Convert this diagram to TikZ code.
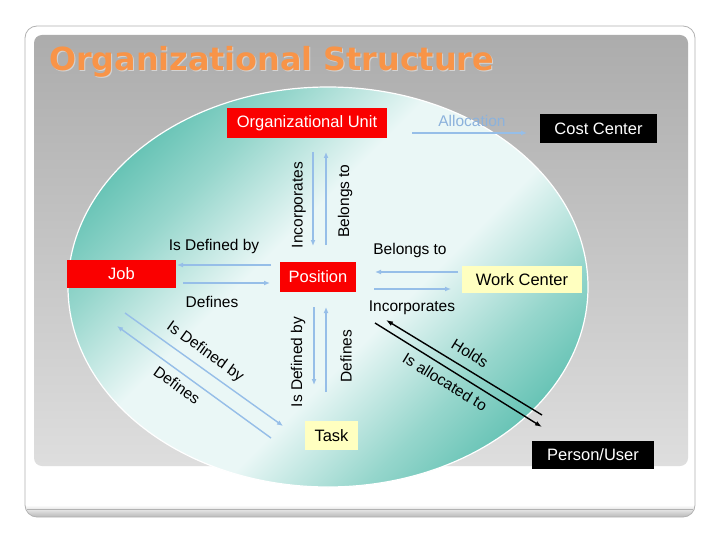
\documentclass[tikz,border=0pt]{standalone}
\usepackage{fontspec}
\setmainfont{Liberation Sans}
\newfontfamily\titlefont{DejaVu Sans}
\usetikzlibrary{arrows.meta,calc}
\definecolor{arrowblue}{RGB}{150,190,232}
\definecolor{boxred}{RGB}{250,0,0}
\definecolor{boxyellow}{RGB}{255,255,192}
\definecolor{titleorange}{RGB}{248,148,72}
\definecolor{tealdark}{RGB}{80,186,170}
\definecolor{tealmid}{RGB}{150,214,204}
\definecolor{teallight}{RGB}{234,247,246}
\definecolor{alloc}{RGB}{140,178,220}
\definecolor{panelgraytop}{RGB}{172,172,172}
\definecolor{panelgraybot}{RGB}{222,222,222}
\pgfdeclareverticalshading{ellshade}{100bp}{color(0bp)=(tealdark); color(21bp)=(tealdark); color(32bp)=(tealmid); color(43bp)=(teallight); color(57bp)=(teallight); color(68bp)=(tealmid); color(79bp)=(tealdark); color(100bp)=(tealdark)}
\begin{document}
\begin{tikzpicture}[x=1pt,y=-1pt,
  box/.style={inner sep=0pt, font=\fontsize{16.5}{18}\selectfont},
  redbox/.style={box, fill=boxred, text=white},
  blackbox/.style={box, fill=black, text=white},
  yellowbox/.style={box, fill=boxyellow, text=black},
  lbl/.style={font=\fontsize{15.5}{17}\selectfont, inner sep=0pt},
  bluearrow/.style={draw=arrowblue, line width=1.4pt, -{Latex[length=6pt,width=5pt]}},
  blackarrow/.style={draw=black, line width=1.4pt, -{Latex[length=7pt,width=5pt]}},
]
\useasboundingbox (0,0) rectangle (720,540);
\fill[white] (0,0) rectangle (720,540);
% outer frame
\begin{scope}
\clip[rounded corners=12pt] (25,26) rectangle (695,517);
\fill[white] (25,26) rectangle (695,517);
\shade[top color=white, bottom color=gray!55] (25,505) rectangle (695,517);
\end{scope}
\draw[gray!60, line width=0.6pt] (27,509) -- (693,509);
\draw[gray!60, line width=0.8pt, rounded corners=12pt] (25,26) rectangle (695,517);
% panel
\shade[top color=panelgraytop, bottom color=panelgraybot, rounded corners=8pt] (34,35) rectangle (688,466);
% title
\node[anchor=base west, text=white, opacity=0.45, font=\titlefont\bfseries\fontsize{31.8}{36}\selectfont, inner sep=0pt] at (50,72) {Organizational Structure};
\node[anchor=base west, text=titleorange, font=\titlefont\bfseries\fontsize{31.8}{36}\selectfont, inner sep=0pt] (title) at (49,71) {Organizational Structure};
% ellipse
\shade[shading=ellshade, shading angle=45] (328,287) ellipse [x radius=260, y radius=200];
\draw[white, line width=1.2pt] (328,287) ellipse [x radius=260, y radius=200];
% boxes
\node[redbox, minimum width=160pt, minimum height=30pt] (ou) at (307,123) {Organizational Unit};
\node[blackbox, minimum width=117pt, minimum height=29pt] (cc) at (598.5,128.5) {Cost Center};
\node[redbox, minimum width=109pt, minimum height=28pt] (job) at (121.5,274) {Job};
\node[redbox, minimum width=76pt, minimum height=30pt] (pos) at (318,277) {Position};
\node[yellowbox, minimum width=120pt, minimum height=27pt] (wc) at (522,279.5) {Work Center};
\node[yellowbox, minimum width=53pt, minimum height=29pt] (task) at (331.5,435.5) {Task};
\node[blackbox, minimum width=122pt, minimum height=28pt] (pu) at (593,455) {Person/User};
% allocation
\node[lbl, text=alloc] (alloclbl) at (472,121) {Allocation};
\coordinate (al1) at (412,133); \coordinate (al2) at (527,133);
\draw[bluearrow] (al1) -- (al2);
% OU <-> Position
\coordinate (v1a) at (313,152); \coordinate (v1b) at (313,246);
\coordinate (v2a) at (326,245); \coordinate (v2b) at (326,152);
\draw[bluearrow] (v1a) -- (v1b);
\draw[bluearrow] (v2a) -- (v2b);
\node[lbl, rotate=90] (incorp1) at (299,205) {Incorporates};
\node[lbl, rotate=90] (belong1) at (345,201) {Belongs to};
% Job <-> Position
\coordinate (h1a) at (271,265); \coordinate (h1b) at (177,265);
\coordinate (h2a) at (183,283); \coordinate (h2b) at (270,283);
\draw[bluearrow] (h1a) -- (h1b);
\draw[bluearrow] (h2a) -- (h2b);
\node[lbl] (isdef1) at (214,246) {Is Defined  by};
\node[lbl] (def1) at (212,302) {Defines};
% Position <-> Work Center
\coordinate (w1a) at (458,272); \coordinate (w1b) at (375,272);
\coordinate (w2a) at (374,289); \coordinate (w2b) at (451,289);
\draw[bluearrow] (w1a) -- (w1b);
\draw[bluearrow] (w2a) -- (w2b);
\node[lbl] (belong2) at (410,250) {Belongs to};
\node[lbl] (incorp2) at (412,308) {Incorporates};
% Position <-> Task
\coordinate (t1a) at (314,307); \coordinate (t1b) at (314,385);
\coordinate (t2a) at (326,392); \coordinate (t2b) at (326,307);
\draw[bluearrow] (t1a) -- (t1b);
\draw[bluearrow] (t2a) -- (t2b);
\node[lbl, rotate=90] (isdef2) at (298,362) {Is Defined by};
\node[lbl, rotate=90] (def2) at (346,356) {Defines};
% Job <-> Task diagonal
\coordinate (d1a) at (125,313); \coordinate (d1b) at (283,426);
\coordinate (d2a) at (271,438); \coordinate (d2b) at (117,326);
\draw[bluearrow] (d1a) -- (d1b);
\draw[bluearrow] (d2a) -- (d2b);
\node[lbl, rotate=-35.5] (isdef3) at (205,352) {Is Defined by};
\node[lbl, rotate=-35.5] (def3) at (177,385) {Defines};
% Position <-> Person/User
\coordinate (p1a) at (542,415); \coordinate (p1b) at (386,320);
\coordinate (p2a) at (375,323); \coordinate (p2b) at (542,427);
\draw[blackarrow] (p1a) -- (p1b);
\draw[blackarrow] (p2a) -- (p2b);
\node[lbl, rotate=-31.5] (holds) at (470,353) {Holds};
\node[lbl, rotate=-31.5] (alloc2) at (445,382) {Is allocated to};
\end{tikzpicture}
\end{document}
